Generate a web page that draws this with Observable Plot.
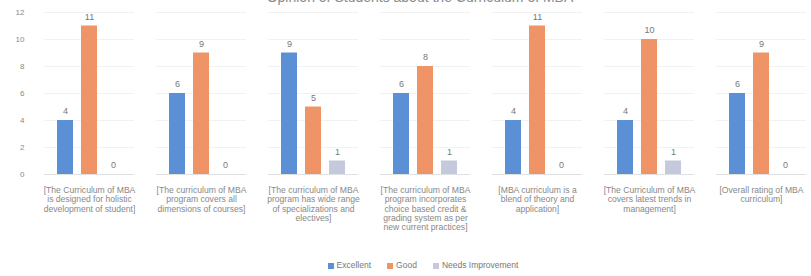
<!DOCTYPE html>
<html>
<head>
<meta charset="utf-8">
<script src="https://cdn.jsdelivr.net/npm/d3@7"></script>
<script src="https://cdn.jsdelivr.net/npm/@observablehq/plot@0.6"></script>
<style>
  body { margin: 0; background: #fff; font-family: "Liberation Sans", Arial, sans-serif; }
  #wrap { position: relative; width: 811px; height: 276px; overflow: hidden; }
  #title { position: absolute; top: -11px; left: 0; width: 840px; text-align: center; font-size: 14px; color: #8a8a8a; }
  #legend { position: absolute; top: 260px; left: 0; width: 846px; text-align: center; font-size: 8.5px; color: #777; }
  #legend span.item { margin: 0 8px; }
  #legend span.sw { display: inline-block; width: 6px; height: 6px; margin-right: 3px; vertical-align: -0.5px; }
</style>
</head>
<body>
<div id="wrap">
  <div id="title">Opinion of Students about the Curriculum of MBA</div>
  <div id="chart"></div>
  <div id="legend"></div>
</div>
<script>
const categories = [
  "[The Curriculum of MBA is designed for holistic development of student]",
  "[The curriculum of MBA program covers all dimensions of courses]",
  "[The curriculum of MBA program has wide range of specializations and electives]",
  "[The curriculum of MBA program incorporates choice based credit & grading system as per new current practices]",
  "[MBA curriculum is a blend of theory and application]",
  "[The Curriculum of MBA covers latest trends in management]",
  "[Overall rating of MBA curriculum]"
];
const tickLabels = [
  "[The Curriculum of MBA\nis designed for holistic\ndevelopment of student]",
  "[The curriculum of MBA\nprogram covers all\ndimensions of courses]",
  "[The curriculum of MBA\nprogram has wide range\nof specializations and\nelectives]",
  "[The curriculum of MBA\nprogram incorporates\nchoice based credit &\ngrading system as per\nnew current practices]",
  "[MBA curriculum is a\nblend of theory and\napplication]",
  "[The Curriculum of MBA\ncovers latest trends in\nmanagement]",
  "[Overall rating of MBA\ncurriculum]"
];
const seriesNames = ["Excellent", "Good", "Needs Improvement"];
const excellent = [4, 6, 9, 6, 4, 4, 6];
const good = [11, 9, 5, 8, 11, 10, 9];
const needsImprovement = [0, 0, 1, 1, 0, 1, 0];
const yTicks = [0, 2, 4, 6, 8, 10, 12];
const colors = ["#5b8fd6", "#ee9466", "#c6c9de"];

const seriesValues = [excellent, good, needsImprovement];
const data = [];
categories.forEach((c, i) => {
  seriesNames.forEach((s, j) => data.push({category: c, series: s, value: seriesValues[j][i]}));
});
const labelOf = new Map(categories.map((c, i) => [c, tickLabels[i]]));

const chart = Plot.plot({
  width: 811,
  height: 240,
  marginTop: 12,
  marginBottom: 66,
  marginLeft: 33,
  marginRight: -6,
  style: {fontFamily: "Liberation Sans, Arial, sans-serif", fontSize: "8px", color: "#777", background: "#fff"},
  fx: {domain: categories, paddingInner: 0.2, paddingOuter: 0.1, label: null},
  x: {domain: seriesNames, paddingInner: 0.35, paddingOuter: 0.5, axis: null},
  y: {domain: [0, 12], label: null},
  color: {domain: seriesNames, range: colors},
  marks: [
    Plot.gridY(yTicks, {stroke: "#f1f1f1", strokeOpacity: 1}),
    Plot.axisY({ticks: yTicks, tickSize: 0, tickPadding: 20, fontSize: 8, fill: "#888", label: null}),
    Plot.axisFx({tickSize: 0, tickPadding: 12, tickFormat: d => labelOf.get(d), fontSize: 8.6, lineHeight: 1.08, fill: "#888", label: null, anchor: "bottom"}),
    Plot.ruleY([0], {stroke: "#e0e0e0"}),
    Plot.barY(data, {fx: "category", x: "series", y: "value", fill: "series"}),
    Plot.text(data, {fx: "category", x: "series", y: "value", text: d => String(d.value), dy: -9, fontSize: 9, fill: "#777"})
  ]
});
document.getElementById("chart").appendChild(chart);

const legend = document.getElementById("legend");
seriesNames.forEach((s, i) => {
  const item = document.createElement("span");
  item.className = "item";
  const sw = document.createElement("span");
  sw.className = "sw";
  sw.style.background = colors[i];
  item.appendChild(sw);
  item.appendChild(document.createTextNode(s));
  legend.appendChild(item);
});
</script>
</body>
</html>
